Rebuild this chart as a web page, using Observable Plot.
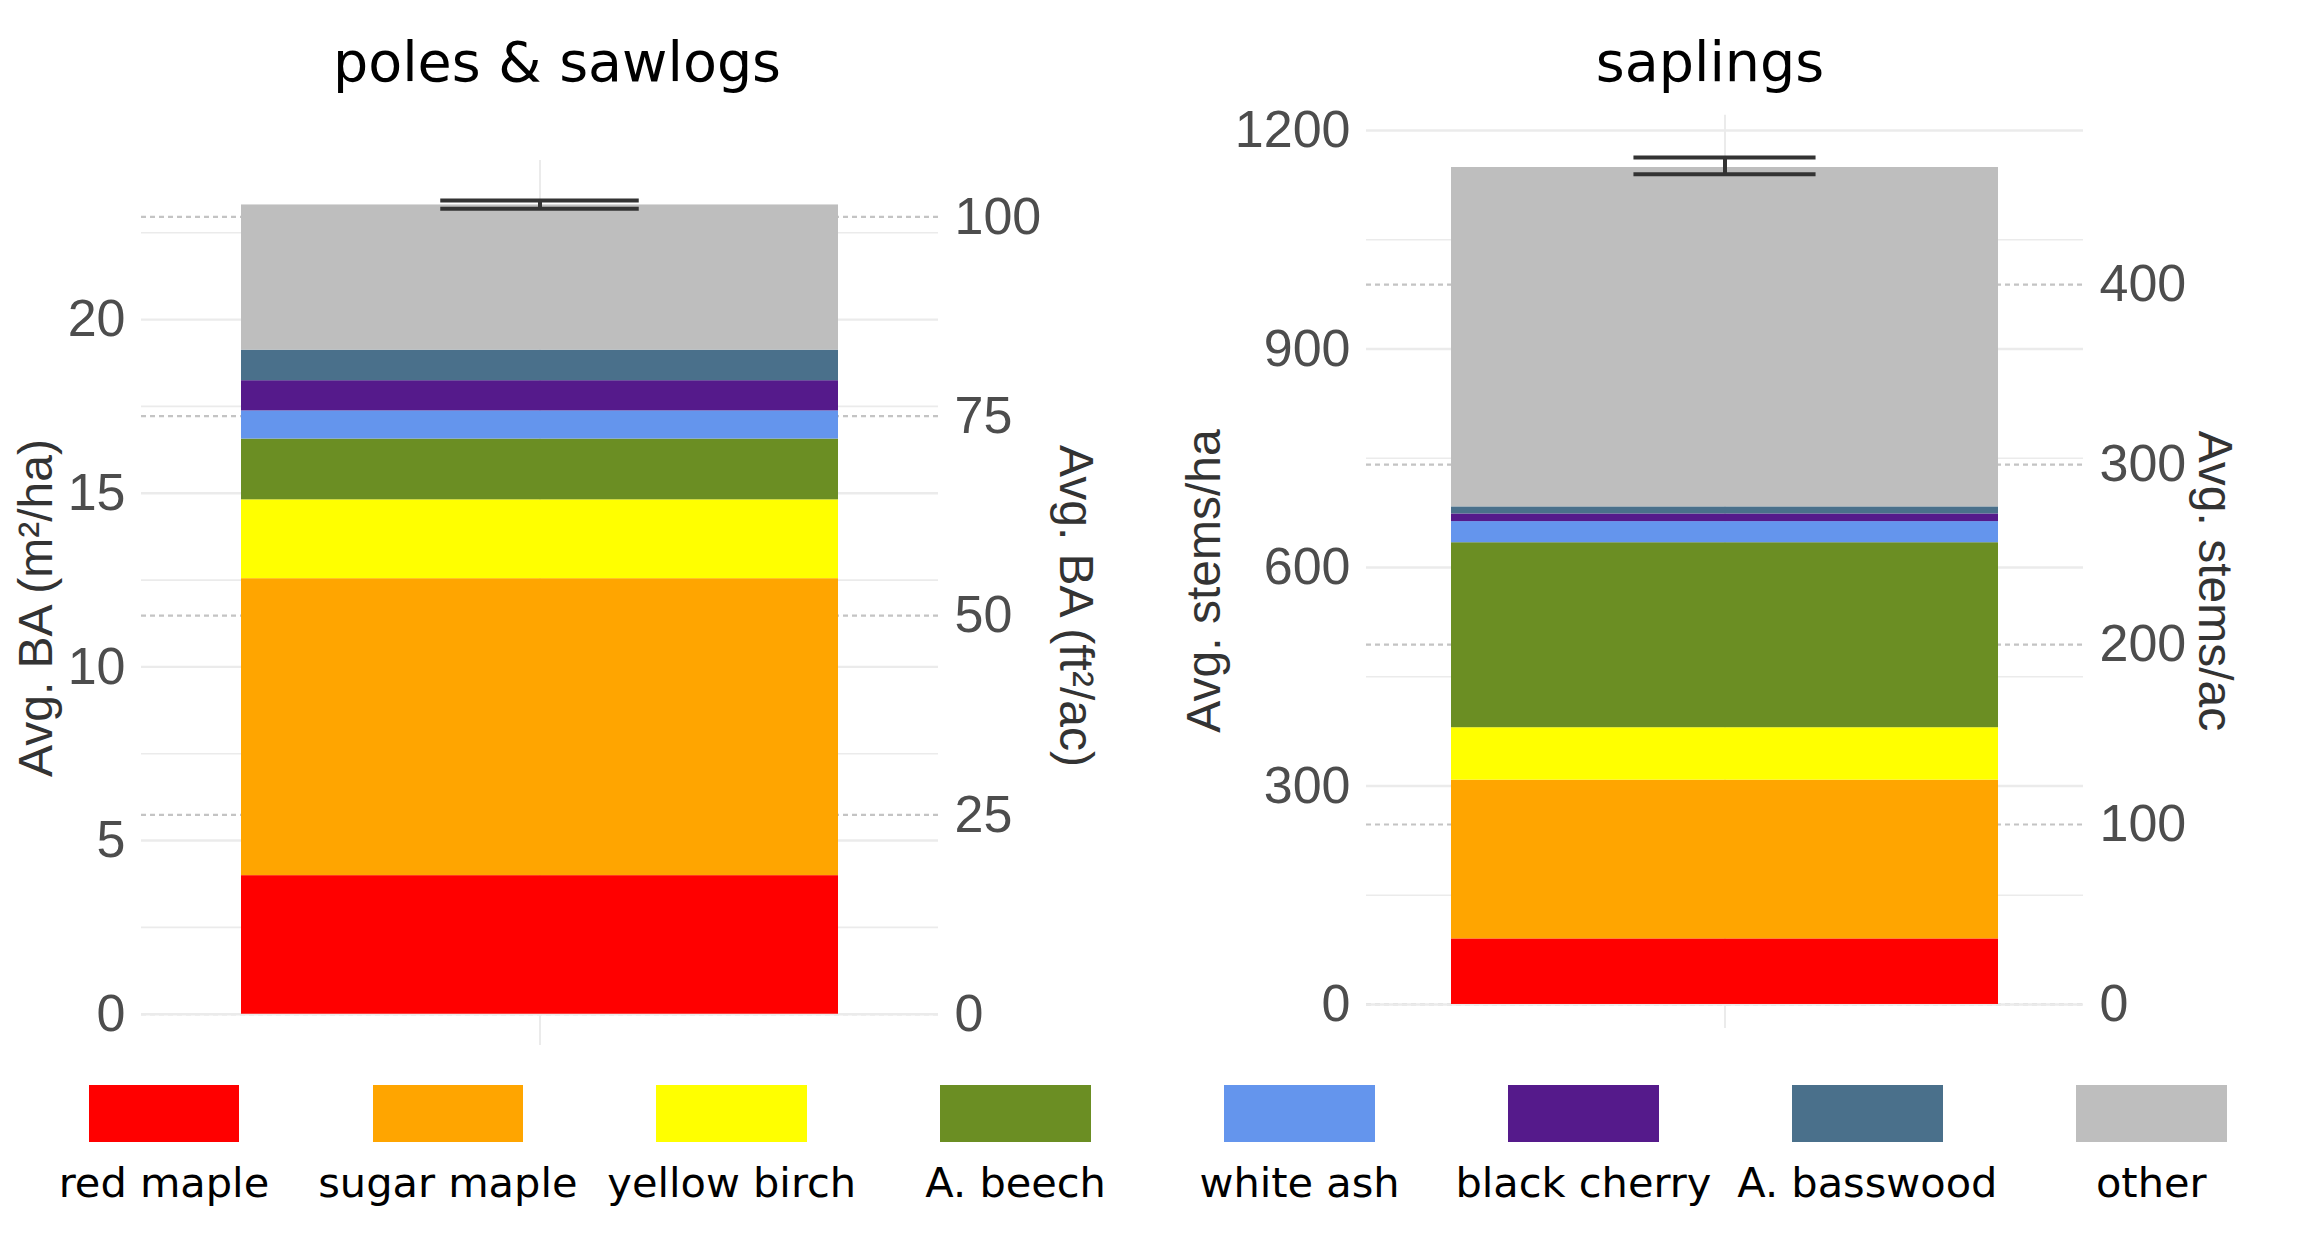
<!DOCTYPE html>
<html>
<head>
<meta charset="utf-8">
<script src="https://cdn.jsdelivr.net/npm/d3@7"></script>
<script src="https://cdn.jsdelivr.net/npm/@observablehq/plot@0.6"></script>
<style>
  body { margin: 0; background: #fff; }
  #root { position: relative; width: 2316px; height: 1237px; overflow: hidden; background: #fff; }
  .panel { position: absolute; top: 0; }
  .title { position: absolute; font-family: "DejaVu Sans", sans-serif; font-size: 55.5px; line-height: 55.5px; color: #000; white-space: nowrap; transform: translateX(-50%); }
  .ytitle { position: absolute; font-family: "Liberation Sans", Arial, sans-serif; font-size: 48px; line-height: 1.15; color: #333; white-space: nowrap; }
  .swatch { position: absolute; }
  .lab { position: absolute; font-family: "DejaVu Sans", sans-serif; font-size: 41.5px; line-height: 41.5px; color: #000; white-space: nowrap; transform: translateX(-50%); }
</style>
</head>
<body>
<div id="root"></div>
<script>
// ---- data ----
const species = ["red maple", "sugar maple", "yellow birch", "A. beech", "white ash", "black cherry", "A. basswood", "other"];
const speciesColors = ["#FF0000", "#FFA500", "#FFFF00", "#6B8E23", "#6495ED", "#551A8B", "#4A708B", "#BEBEBE"];

// poles & sawlogs: average basal area, m²/ha
const poleBA = [3.99, 8.55, 2.27, 1.75, 0.81, 0.87, 0.88, 4.18];
const poleErr = [23.19, 23.43];
const poleTicks = [0, 5, 10, 15, 20];
const poleMinorTicks = [2.5, 7.5, 12.5, 17.5, 22.5];
const poleSecTicks = [0, 25, 50, 75, 100];          // ft²/ac

// saplings: average stems/ha
const saplingStems = [90, 218, 72, 254, 29, 10.5, 9.7, 466];
const saplingErr = [1140, 1163];
const saplingTicks = [0, 300, 600, 900, 1200];
const saplingMinorTicks = [150, 450, 750, 1050];
const saplingSecTicks = [0, 100, 200, 300, 400];    // stems/ac

const FT2AC_PER_M2HA = 4.356;
const HA_PER_AC = 2.471;

function panel(o) {
  const data = species.map((s, i) => ({group: "all", species: s, value: o.values[i]}));
  const bw = (o.width - o.mL - o.mR) / (1 + 2 * o.padOuter);
  const inset = bw / 3;
  const secPos = o.sec.map(v => v * o.secFactor);
  const gridStyle = {stroke: "#ebebeb", strokeOpacity: 1};
  return Plot.plot({
    width: o.width, height: o.height,
    marginLeft: o.mL, marginRight: o.mR, marginTop: o.mT, marginBottom: o.mB,
    style: {fontFamily: '"Liberation Sans", Arial, sans-serif', color: "#4d4d4d", background: "transparent", overflow: "visible"},
    x: {type: "band", domain: ["all"], paddingInner: 0, paddingOuter: o.padOuter, axis: null},
    y: {domain: o.domain},
    color: {domain: species, range: speciesColors},
    marks: [
      Plot.gridY(secPos, {stroke: "#c4c4c4", strokeOpacity: 1, strokeWidth: 2.2, strokeDasharray: "5,4"}),
      Plot.gridY(o.minor, {...gridStyle, strokeWidth: 1.6}),
      Plot.gridY(o.major, {...gridStyle, strokeWidth: 2.4}),
      Plot.gridX(["all"], {...gridStyle, strokeWidth: 2}),
      Plot.barY(data, {x: "group", y: "value", fill: "species"}),
      Plot.tickY(o.err, {x: () => "all", y: d => d, stroke: "#333", strokeWidth: 4, insetLeft: inset, insetRight: inset}),
      Plot.ruleX([o.err], {x: () => "all", y1: d => d[0], y2: d => d[1], stroke: "#333", strokeWidth: 4}),
      Plot.axisY(o.major, {anchor: "left", tickSize: 0, tickPadding: 16, fontSize: 52, label: null,
        tickFormat: d => String(d)}),
      Plot.axisY(secPos, {anchor: "right", tickSize: 0, tickPadding: 16, fontSize: 52, label: null,
        tickFormat: d => String(Math.round(d / o.secFactor))})
    ]
  });
}

const root = document.getElementById("root");

const left = panel({
  values: poleBA, err: poleErr, major: poleTicks, minor: poleMinorTicks, sec: poleSecTicks,
  secFactor: 1 / FT2AC_PER_M2HA, domain: [-0.90, 24.58],
  width: 1160, height: 1060, mL: 141, mR: 222, mT: 160, mB: 15, padOuter: 1 / 6
});
left.classList.add("panel");
left.style.left = "0px";
root.appendChild(left);

const right = panel({
  values: saplingStems, err: saplingErr, major: saplingTicks, minor: saplingMinorTicks, sec: saplingSecTicks,
  secFactor: HA_PER_AC, domain: [-33, 1221],
  width: 1156, height: 1060, mL: 206, mR: 233, mT: 114.7, mB: 32, padOuter: 0.155
});
right.classList.add("panel");
right.style.left = "1160px";
root.appendChild(right);

function addDiv(cls, text, css) {
  const d = document.createElement("div");
  d.className = cls;
  d.textContent = text;
  Object.assign(d.style, css);
  root.appendChild(d);
  return d;
}

// panel titles
addDiv("title", "poles & sawlogs", {left: "557px", top: "34px"});
addDiv("title", "saplings", {left: "1710px", top: "34px"});

// axis titles
addDiv("ytitle", "Avg. BA (m²/ha)", {left: "36px", top: "608px", transform: "translate(-50%,-50%) rotate(-90deg)"});
addDiv("ytitle", "Avg. BA (ft²/ac)", {left: "1076px", top: "606px", transform: "translate(-50%,-50%) rotate(90deg)"});
addDiv("ytitle", "Avg. stems/ha", {left: "1204px", top: "581px", transform: "translate(-50%,-50%) rotate(-90deg)"});
addDiv("ytitle", "Avg. stems/ac", {left: "2215px", top: "581px", transform: "translate(-50%,-50%) rotate(90deg)"});

// legend
const legX0 = 88.6, legPitch = 283.9, swW = 150.7, swH = 56.7;
species.forEach((s, i) => {
  const x = legX0 + i * legPitch;
  const sw = document.createElement("div");
  sw.className = "swatch";
  Object.assign(sw.style, {left: x + "px", top: "1085px", width: swW + "px", height: swH + "px", background: speciesColors[i]});
  root.appendChild(sw);
  addDiv("lab", s, {left: (x + swW / 2) + "px", top: "1162px"});
});
</script>
</body>
</html>
